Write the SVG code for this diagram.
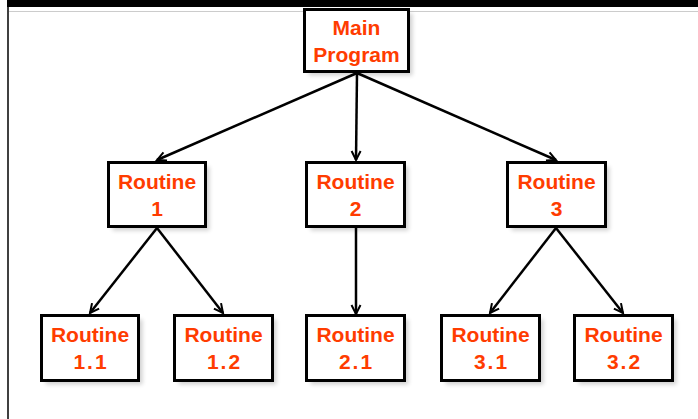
<svg xmlns="http://www.w3.org/2000/svg" width="698" height="419" viewBox="0 0 698 419">
<style>
.box{fill:#fff;stroke:#000;stroke-width:3}
.sh{fill:#000;opacity:0.18;filter:url(#blur)}
.lbl{font-family:"Liberation Sans",Arial,sans-serif;font-weight:bold;font-size:21px;fill:#ff3c00;text-anchor:middle}
.num{letter-spacing:2px}
.con{stroke:#000;stroke-width:2.5;fill:none;marker-end:url(#arr)}
</style>
<defs>
<filter id="blur" x="-20%" y="-20%" width="140%" height="140%"><feGaussianBlur stdDeviation="2"/></filter>
<marker id="arr" markerUnits="userSpaceOnUse" markerWidth="14" markerHeight="14" viewBox="0 0 14 14" refX="12" refY="7" orient="auto">
<path d="M3,2.5 L12,7 L3,11.5" fill="none" stroke="#000" stroke-width="2"/>
</marker>
</defs>
<rect x="0" y="0" width="698" height="419" fill="#fff"/>
<rect x="7" y="0" width="691" height="7" fill="#000"/>
<line x1="9" y1="11.5" x2="698" y2="11.5" stroke="#ccc" stroke-width="1"/>
<line x1="8" y1="7" x2="8" y2="419" stroke="#000" stroke-width="1.5"/>
<g id="connectors">
<line class="con" x1="357" y1="73" x2="157" y2="160"/>
<line class="con" x1="357" y1="73" x2="356" y2="160"/>
<line class="con" x1="357" y1="73" x2="556" y2="160"/>
<line class="con" x1="157" y1="228" x2="90" y2="313"/>
<line class="con" x1="157" y1="228" x2="223" y2="313"/>
<line class="con" x1="356" y1="228" x2="356" y2="314"/>
<line class="con" x1="556" y1="228" x2="490" y2="313"/>
<line class="con" x1="556" y1="228" x2="623" y2="313"/>
</g>
<g id="main">
<rect class="sh" x="308.5" y="13.5" width="104" height="62"/>
<rect class="box" x="304.5" y="9.5" width="104" height="62"/>
<text class="lbl" x="356.5" y="35">Main</text>
<text class="lbl" x="356.5" y="62">Program</text>
</g>
<g id="r1">
<rect class="sh" x="112.5" y="166.5" width="97" height="64"/>
<rect class="box" x="108.5" y="162.5" width="97" height="64"/>
<text class="lbl" x="157" y="189">Routine</text>
<text class="lbl" x="157" y="216">1</text>
</g>
<g id="r2">
<rect class="sh" x="310.5" y="166.5" width="98" height="64"/>
<rect class="box" x="306.5" y="162.5" width="98" height="64"/>
<text class="lbl" x="355.5" y="189">Routine</text>
<text class="lbl" x="355.5" y="216">2</text>
</g>
<g id="r3">
<rect class="sh" x="511.5" y="166.5" width="98" height="64"/>
<rect class="box" x="507.5" y="162.5" width="98" height="64"/>
<text class="lbl" x="556.5" y="189">Routine</text>
<text class="lbl" x="556.5" y="216">3</text>
</g>
<g id="r11">
<rect class="sh" x="45.5" y="319.5" width="97" height="65"/>
<rect class="box" x="41.5" y="315.5" width="97" height="65"/>
<text class="lbl" x="90" y="342">Routine</text>
<text class="lbl num" x="91" y="369">1.1</text>
</g>
<g id="r12">
<rect class="sh" x="178.5" y="319.5" width="98" height="65"/>
<rect class="box" x="174.5" y="315.5" width="98" height="65"/>
<text class="lbl" x="223.5" y="342">Routine</text>
<text class="lbl num" x="224.5" y="369">1.2</text>
</g>
<g id="r21">
<rect class="sh" x="310.5" y="319.5" width="98" height="65"/>
<rect class="box" x="306.5" y="315.5" width="98" height="65"/>
<text class="lbl" x="355.5" y="342">Routine</text>
<text class="lbl num" x="356.5" y="369">2.1</text>
</g>
<g id="r31">
<rect class="sh" x="445.5" y="319.5" width="98" height="65"/>
<rect class="box" x="441.5" y="315.5" width="98" height="65"/>
<text class="lbl" x="490.5" y="342">Routine</text>
<text class="lbl num" x="491.5" y="369">3.1</text>
</g>
<g id="r32">
<rect class="sh" x="578.5" y="319.5" width="98" height="65"/>
<rect class="box" x="574.5" y="315.5" width="98" height="65"/>
<text class="lbl" x="623.5" y="342">Routine</text>
<text class="lbl num" x="624.5" y="369">3.2</text>
</g>
</svg>
